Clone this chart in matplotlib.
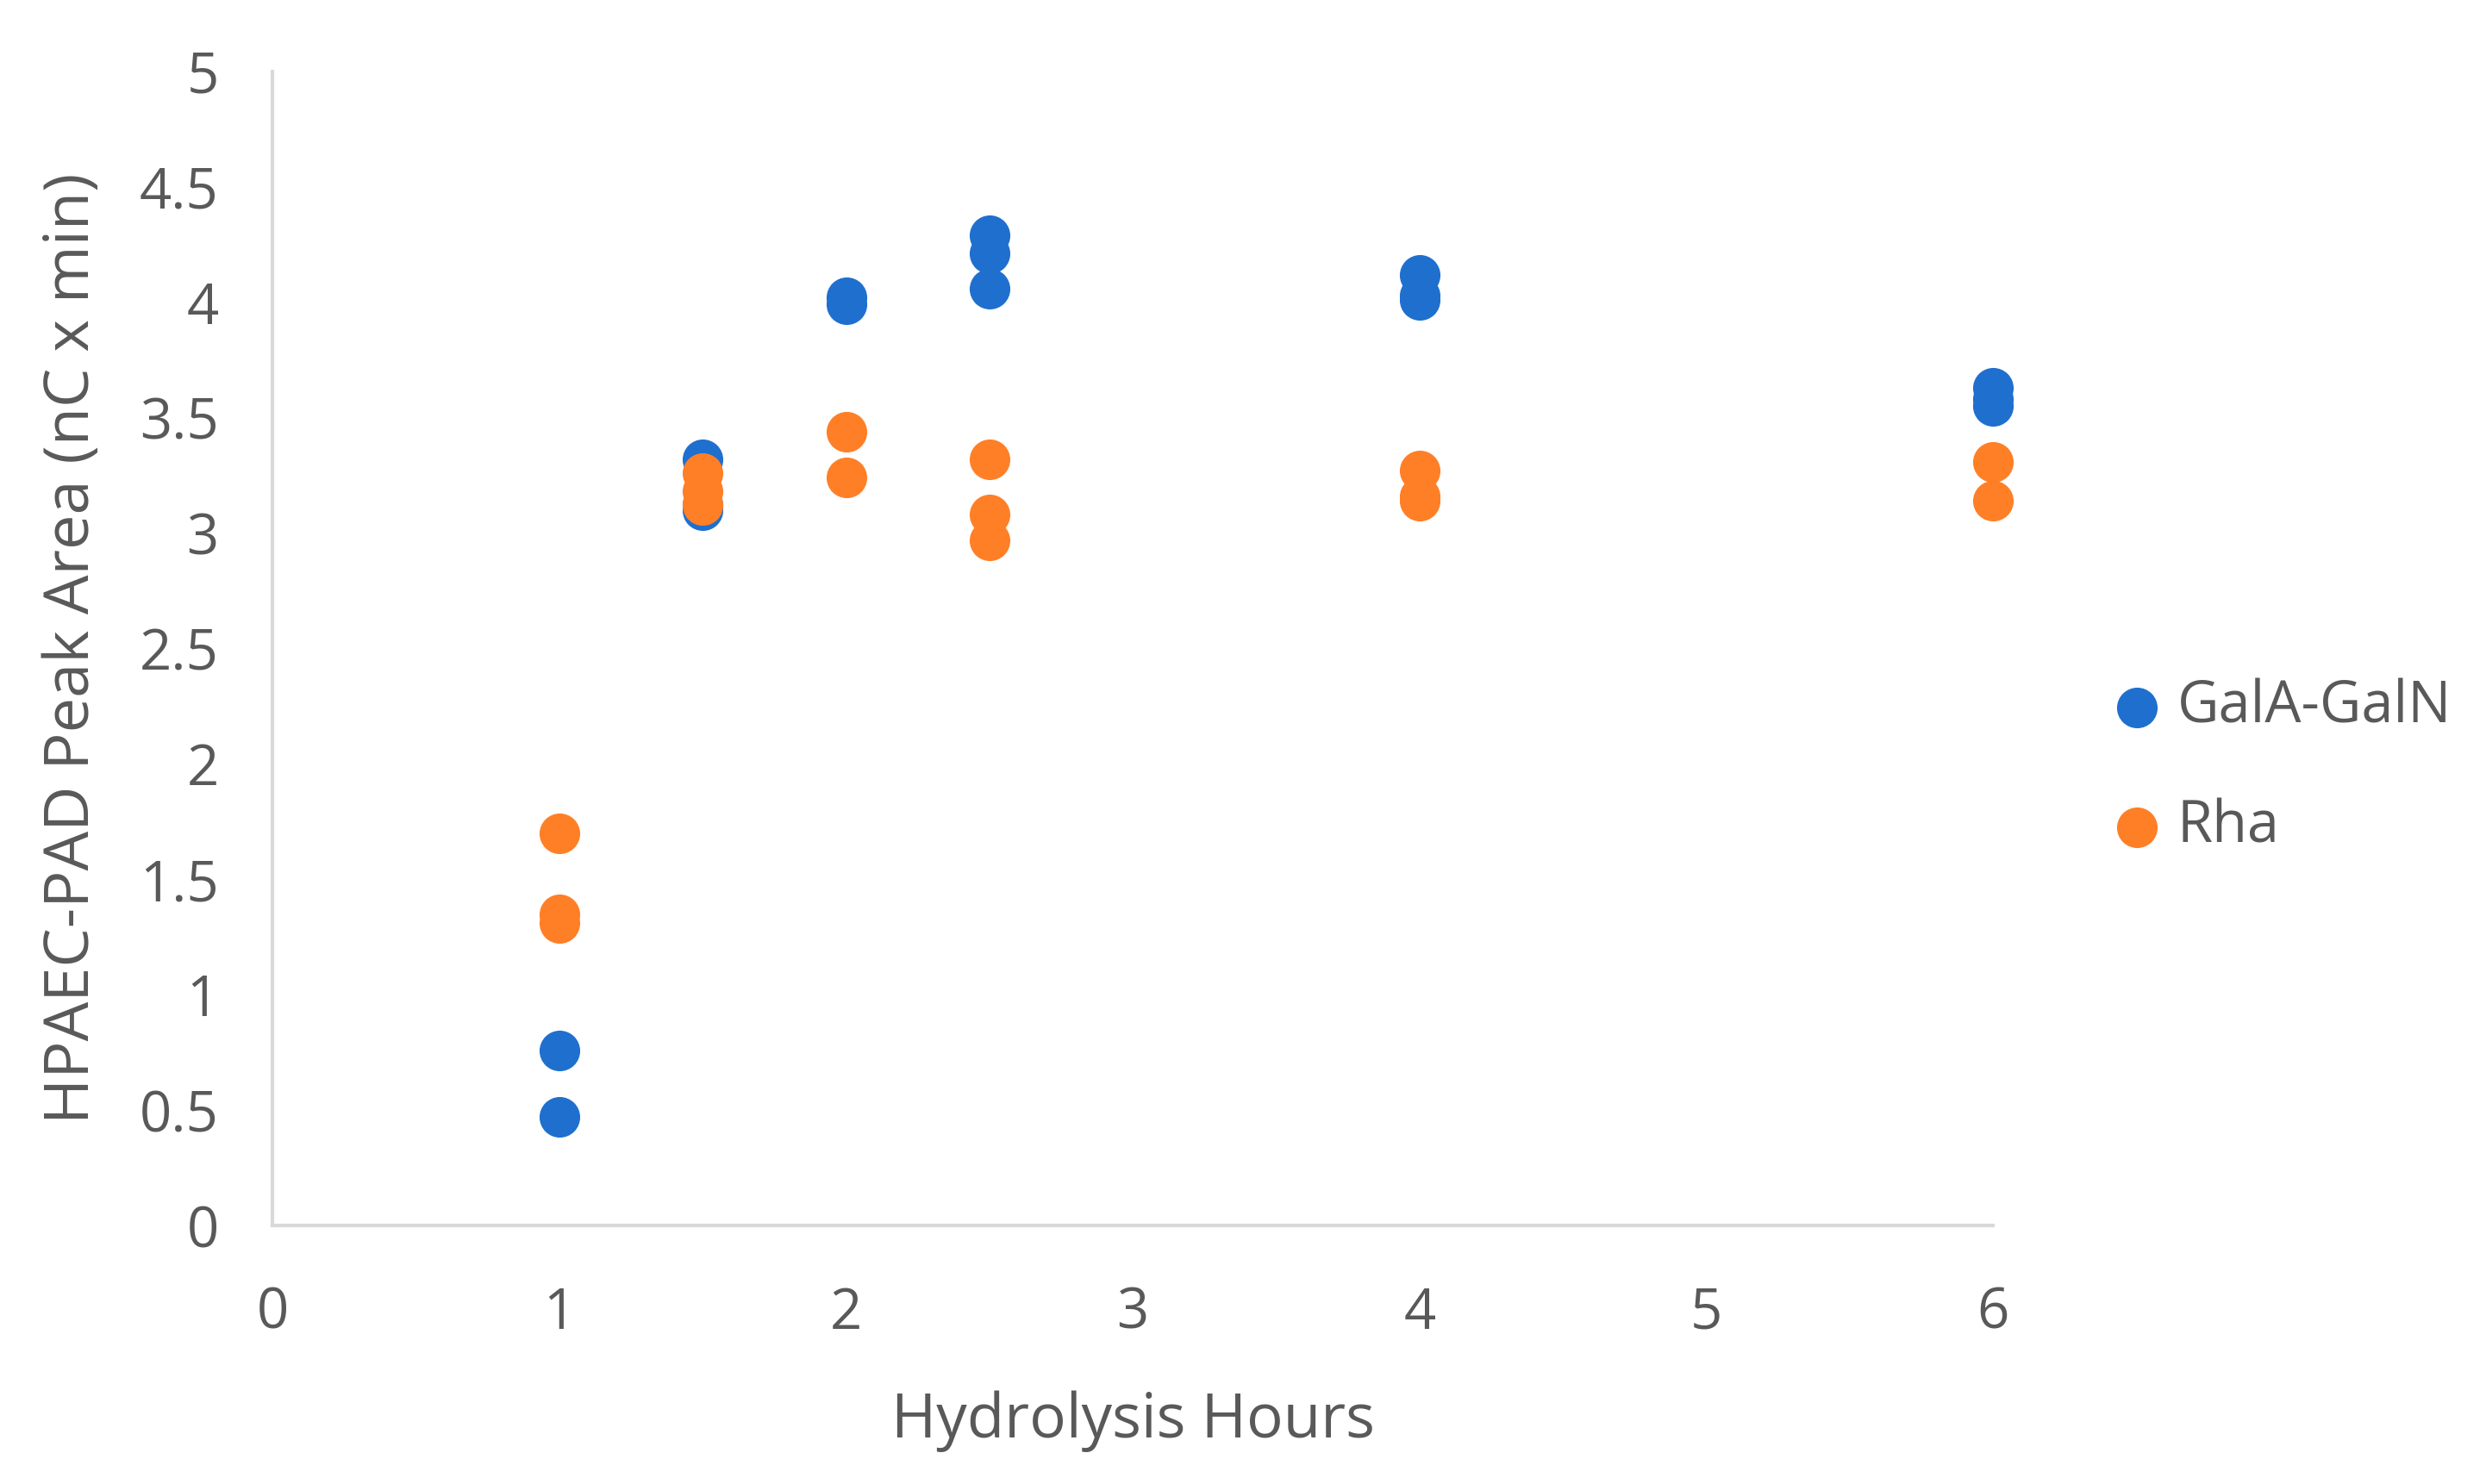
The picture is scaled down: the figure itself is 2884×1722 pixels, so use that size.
import matplotlib.pyplot as plt

plt.rcParams['font.family'] = ['Open Sans', 'DejaVu Sans']

# Hydrolysis hours and peak areas (nC x min)
gala_hours = [1, 1, 1.5, 1.5, 1.5, 2, 2, 2.5, 2.5, 2.5, 4, 4, 4, 6, 6, 6]
gala_area = [0.76, 0.47, 3.32, 3.10, 3.12, 4.02, 3.99, 4.29, 4.21, 4.06, 4.12, 4.03, 4.01, 3.63, 3.58, 3.55]

rha_hours = [1, 1, 1, 1.5, 1.5, 1.5, 2, 2, 2.5, 2.5, 2.5, 4, 4, 4, 6, 6]
rha_area = [1.70, 1.35, 1.31, 3.26, 3.18, 3.12, 3.44, 3.24, 3.32, 3.08, 2.97, 3.27, 3.16, 3.14, 3.31, 3.14]

grey = '#595959'

fig = plt.figure(figsize=(28.84, 17.22), dpi=100)
ax = fig.add_axes([0.1097, 0.1741, 0.692, 0.7778])

ax.scatter(gala_hours, gala_area, s=1150, color='#1f6fcf', label='GalA-GalN',
           zorder=3, linewidths=0, clip_on=False)
ax.scatter(rha_hours, rha_area, s=1150, color='#ff7f27', label='Rha',
           zorder=3, linewidths=0, clip_on=False)

ax.set_xlim(0, 6)
ax.set_ylim(0, 5)
ax.set_xticks(range(0, 7))
ax.set_yticks([0, 0.5, 1, 1.5, 2, 2.5, 3, 3.5, 4, 4.5, 5])
ax.set_yticklabels(['0', '0.5', '1', '1.5', '2', '2.5', '3', '3.5', '4', '4.5', '5'])

for side in ['top', 'right']:
    ax.spines[side].set_visible(False)
for side in ['left', 'bottom']:
    ax.spines[side].set_color('#d9d9d9')
    ax.spines[side].set_linewidth(3)

ax.tick_params(axis='both', length=0, labelsize=47, labelcolor=grey)
ax.tick_params(axis='y', pad=45)
ax.tick_params(axis='x', pad=50)

ax.set_xlabel('Hydrolysis Hours', fontsize=51, color=grey, labelpad=40)
ax.set_ylabel('HPAEC-PAD Peak Area (nC x min)', fontsize=52, color=grey, labelpad=30)

fig.legend(loc='center left', bbox_to_anchor=(0.848, 0.483), frameon=False,
           fontsize=48, labelcolor=grey, handlelength=1.0, handletextpad=0.2,
           labelspacing=1.08, borderpad=0, borderaxespad=0, markerscale=1.0)

fig.savefig('out.png', dpi=100)
